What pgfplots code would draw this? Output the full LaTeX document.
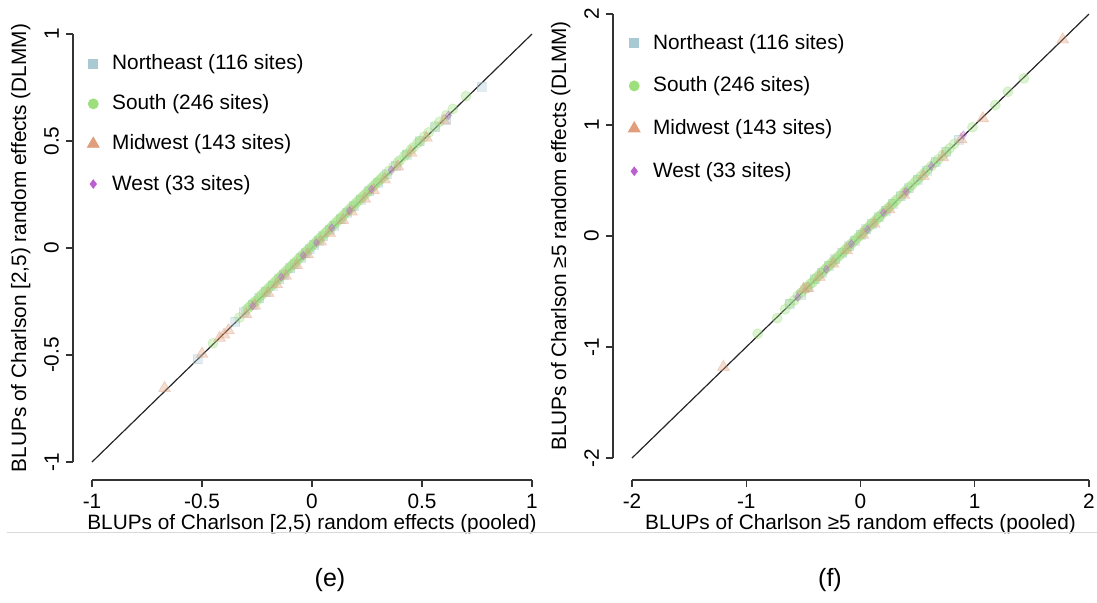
\documentclass[border=0pt]{standalone}
\usepackage{fontspec}
\setmainfont{Liberation Sans}
\usepackage{pgfplots}
\pgfplotsset{compat=1.18}

\definecolor{ne}{HTML}{A9C9D3}
\definecolor{so}{HTML}{9CDF7C}
\definecolor{mw}{HTML}{E09E7C}
\definecolor{we}{HTML}{BB5FD1}

\pgfplotsset{
  blup/.style={
    scale only axis, clip=false,
    axis lines=left,
    axis line style={-, black!80, line width=0.6pt},
    tick style={black!80, line width=0.6pt},
    tick align=outside, major tick length=3.5pt,
    font=\fontsize{10.4}{12}\selectfont,
    /pgf/number format/assume math mode=true,
    yticklabel style={rotate=90, anchor=south},
    xlabel style={yshift=4pt},
    legend image code/.code={\draw[#1] plot coordinates {(0pt,0pt)};},
    legend style={draw=none, fill=none, font=\fontsize{10.4}{12}\selectfont,
      nodes={inner sep=0pt}, column sep=6.5pt, legend cell align=left},
  },
  pts/.style={only marks, opacity=0.35, forget plot},
  neM/.style={mark=square*, mark size=2.25pt, color=ne},
  soM/.style={mark=*, mark size=2.5pt, color=so},
  mwM/.style={mark=triangle*, mark size=3.4pt, color=mw},
  weM/.style={mark=diamond*, mark size=2.1pt, color=we},
}

\begin{document}
\begin{tikzpicture}
\path[use as bounding box] (0,0) rectangle (548.5pt,-301pt);

% panel (e)
\begin{axis}[blup, at={(46pt,-231pt)}, anchor=south west,
  width=220pt, height=214pt,
  xmin=-1, xmax=1, ymin=-1, ymax=1,
  xtick={-1,-0.5,0,0.5,1}, ytick={-1,-0.5,0,0.5,1},
  axis x line shift=9pt, axis y line shift=9.5pt,
  xlabel={BLUPs of Charlson [2,5) random effects (pooled)},
  ylabel={BLUPs of Charlson [2,5) random effects (DLMM)},
  legend style={at={(rel axis cs:-0.025,0.79)}, anchor=west, row sep=11pt}]
\addplot[pts, neM] coordinates {(-0.52,-0.52) (-0.35,-0.345) (-0.31,-0.30) (-0.27,-0.265) (-0.24,-0.235) (-0.21,-0.205) (-0.18,-0.175) (-0.15,-0.145) (-0.13,-0.125) (-0.10,-0.095) (-0.08,-0.075) (-0.05,-0.045) (-0.03,-0.025) (-0.01,-0.005) (0.01,0.015) (0.03,0.035) (0.05,0.055) (0.08,0.085) (0.10,0.105) (0.13,0.135) (0.16,0.165) (0.19,0.195) (0.22,0.225) (0.26,0.265) (0.30,0.305) (0.34,0.345) (0.38,0.385) (0.43,0.435) (0.49,0.50) (0.56,0.565) (0.61,0.60) (0.77,0.755)};
\addplot[pts, soM] coordinates {(-0.45,-0.445) (-0.33,-0.325) (-0.30,-0.29) (-0.29,-0.28) (-0.28,-0.27) (-0.27,-0.26) (-0.26,-0.25) (-0.25,-0.245) (-0.24,-0.23) (-0.23,-0.22) (-0.22,-0.21) (-0.21,-0.20) (-0.20,-0.19) (-0.19,-0.18) (-0.18,-0.17) (-0.17,-0.16) (-0.16,-0.15) (-0.15,-0.14) (-0.14,-0.13) (-0.13,-0.12) (-0.12,-0.11) (-0.11,-0.10) (-0.10,-0.09) (-0.09,-0.08) (-0.08,-0.07) (-0.07,-0.06) (-0.06,-0.05) (-0.05,-0.04) (-0.04,-0.03) (-0.03,-0.02) (-0.02,-0.01) (-0.01,0.00) (0.00,0.01) (0.01,0.02) (0.02,0.03) (0.03,0.04) (0.04,0.05) (0.05,0.06) (0.06,0.07) (0.07,0.08) (0.08,0.09) (0.09,0.10) (0.10,0.11) (0.11,0.12) (0.12,0.13) (0.13,0.14) (0.14,0.15) (0.15,0.16) (0.16,0.17) (0.17,0.18) (0.18,0.19) (0.19,0.20) (0.20,0.21) (0.21,0.22) (0.22,0.23) (0.23,0.24) (0.24,0.25) (0.25,0.26) (0.26,0.27) (0.27,0.28) (0.28,0.29) (0.29,0.30) (0.30,0.31) (0.31,0.32) (0.32,0.33) (0.33,0.34) (0.35,0.36) (0.37,0.38) (0.39,0.40) (0.40,0.41) (0.42,0.43) (0.43,0.44) (0.45,0.46) (0.46,0.47) (0.48,0.49) (0.49,0.50) (0.51,0.52) (0.53,0.54) (0.56,0.57) (0.58,0.59) (0.61,0.62) (0.64,0.65) (0.70,0.71)};
\addplot[pts, mwM] coordinates {(-0.67,-0.655) (-0.50,-0.495) (-0.42,-0.42) (-0.40,-0.405) (-0.38,-0.385) (-0.30,-0.31) (-0.26,-0.27) (-0.20,-0.21) (-0.16,-0.17) (-0.12,-0.13) (-0.07,-0.08) (-0.02,-0.03) (0.04,0.03) (0.08,0.07) (0.14,0.13) (0.18,0.17) (0.24,0.23) (0.28,0.27) (0.33,0.32) (0.39,0.38) (0.45,0.445) (0.52,0.515) (0.60,0.595)};
\addplot[pts, weM] coordinates {(-0.27,-0.27) (-0.14,-0.135) (-0.04,-0.035) (0.02,0.025) (0.09,0.095) (0.17,0.175) (0.27,0.275) (0.36,0.365) (0.62,0.62)};
\addplot[black!85, line width=0.6pt, forget plot] coordinates {(-1,-1) (1,1)};
\addlegendimage{neM}\addlegendentry{Northeast (116 sites)}
\addlegendimage{soM}\addlegendentry{South (246 sites)}
\addlegendimage{mwM}\addlegendentry{Midwest (143 sites)}
\addlegendimage{weM}\addlegendentry{West (33 sites)}
\end{axis}

% panel (f)
\begin{axis}[blup, at={(316pt,-229pt)}, anchor=south west,
  width=228.5pt, height=222pt,
  xmin=-2, xmax=2, ymin=-2, ymax=2,
  xtick={-2,-1,0,1,2}, ytick={-2,-1,0,1,2},
  axis x line shift=11pt, axis y line shift=9.5pt,
  xlabel={BLUPs of Charlson ≥5 random effects (pooled)},
  ylabel={BLUPs of Charlson ≥5 random effects (DLMM)},
  legend style={at={(rel axis cs:-0.022,0.79)}, anchor=west, row sep=12.3pt}]
\addplot[pts, neM] coordinates {(-0.62,-0.61) (-0.52,-0.53) (-0.46,-0.46) (-0.40,-0.39) (-0.34,-0.33) (-0.28,-0.27) (-0.22,-0.21) (-0.16,-0.15) (-0.10,-0.09) (-0.05,-0.04) (0.00,0.01) (0.05,0.06) (0.10,0.11) (0.16,0.17) (0.22,0.23) (0.28,0.29) (0.35,0.36) (0.42,0.43) (0.50,0.51) (0.58,0.59) (0.66,0.67) (0.75,0.76) (0.86,0.87)};
\addplot[pts, soM] coordinates {(-0.90,-0.88) (-0.73,-0.74) (-0.66,-0.66) (-0.62,-0.61) (-0.58,-0.58) (-0.55,-0.54) (-0.52,-0.51) (-0.49,-0.48) (-0.47,-0.46) (-0.44,-0.43) (-0.42,-0.42) (-0.40,-0.39) (-0.38,-0.37) (-0.36,-0.35) (-0.34,-0.33) (-0.32,-0.31) (-0.30,-0.29) (-0.28,-0.27) (-0.26,-0.25) (-0.24,-0.23) (-0.22,-0.21) (-0.20,-0.19) (-0.18,-0.17) (-0.16,-0.15) (-0.14,-0.13) (-0.12,-0.11) (-0.10,-0.09) (-0.08,-0.07) (-0.06,-0.05) (-0.04,-0.03) (-0.02,-0.01) (0.00,0.01) (0.02,0.03) (0.04,0.05) (0.06,0.07) (0.08,0.09) (0.10,0.11) (0.12,0.13) (0.14,0.15) (0.16,0.17) (0.18,0.19) (0.20,0.21) (0.22,0.23) (0.24,0.25) (0.26,0.27) (0.28,0.29) (0.30,0.31) (0.32,0.33) (0.35,0.36) (0.38,0.39) (0.40,0.41) (0.43,0.44) (0.45,0.46) (0.48,0.49) (0.50,0.51) (0.53,0.54) (0.56,0.57) (0.59,0.60) (0.62,0.63) (0.65,0.66) (0.68,0.69) (0.72,0.73) (0.75,0.76) (0.78,0.79) (0.82,0.83) (0.98,0.98) (1.18,1.18) (1.29,1.30) (1.43,1.42)};
\addplot[pts, mwM] coordinates {(-1.20,-1.18) (-0.50,-0.48) (-0.46,-0.47) (-0.36,-0.37) (-0.24,-0.25) (-0.12,-0.13) (0.02,0.01) (0.12,0.11) (0.25,0.24) (0.38,0.37) (0.55,0.54) (0.72,0.71) (0.88,0.87) (1.07,1.06) (1.77,1.77)};
\addplot[pts, weM] coordinates {(-0.55,-0.55) (-0.30,-0.30) (-0.08,-0.07) (0.06,0.06) (0.20,0.21) (0.40,0.40) (0.62,0.63) (0.90,0.91)};
\addplot[black!85, line width=0.6pt, forget plot] coordinates {(-2,-2) (2,2)};
\addlegendimage{neM}\addlegendentry{Northeast (116 sites)}
\addlegendimage{soM}\addlegendentry{South (246 sites)}
\addlegendimage{mwM}\addlegendentry{Midwest (143 sites)}
\addlegendimage{weM}\addlegendentry{West (33 sites)}
\end{axis}

\draw[black!15, line width=0.5pt] (3.5pt,-266pt) -- (548.5pt,-266pt);
\node[font=\fontsize{12.5}{15}\selectfont] at (165pt,-290pt) {(e)};
\node[font=\fontsize{12.5}{15}\selectfont] at (415pt,-290pt) {(f)};
\end{tikzpicture}
\end{document}
